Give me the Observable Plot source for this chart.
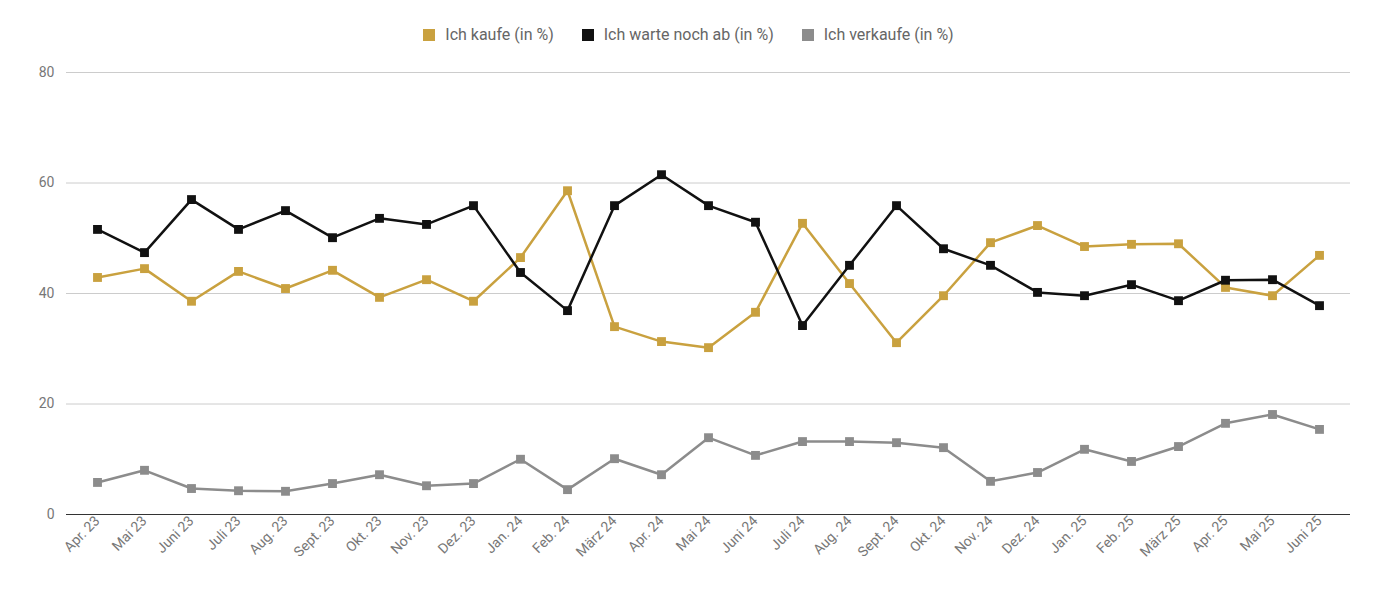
<!DOCTYPE html>
<html><head><meta charset="utf-8">
<script src="https://cdn.jsdelivr.net/npm/d3@7"></script>
<script src="https://cdn.jsdelivr.net/npm/@observablehq/plot@0.6"></script>
<style>
body{margin:0;background:#fff;font-family:Roboto,sans-serif}
#legend{height:50px;display:flex;justify-content:center;align-items:center;gap:28px;font-size:16px;color:#666;padding-top:18px;box-sizing:border-box;height:50px}
#legend span.sw{display:inline-block;width:12px;height:12px;margin-right:10px;vertical-align:-1px}
</style></head><body>
<div id="legend"></div>
<div id="chart"></div>
<script>
const months=["Apr. 23","Mai 23","Juni 23","Juli 23","Aug. 23","Sept. 23","Okt. 23","Nov. 23","Dez. 23","Jan. 24","Feb. 24","März 24","Apr. 24","Mai 24","Juni 24","Juli 24","Aug. 24","Sept. 24","Okt. 24","Nov. 24","Dez. 24","Jan. 25","Feb. 25","März 25","Apr. 25","Mai 25","Juni 25"];
const kaufe=[42.9,44.5,38.6,44,40.9,44.2,39.3,42.5,38.6,46.5,58.6,34,31.3,30.2,36.6,52.7,41.8,31.1,39.6,49.2,52.3,48.5,48.9,49,41.1,39.6,46.9];
const warte=[51.6,47.4,57,51.6,55,50.1,53.6,52.5,55.9,43.8,36.9,55.9,61.5,55.9,52.9,34.2,45.1,55.9,48.1,45.1,40.2,39.6,41.6,38.7,42.4,42.5,37.8];
const verkaufe=[5.8,8,4.7,4.3,4.2,5.6,7.2,5.2,5.6,10,4.5,10.1,7.2,13.9,10.7,13.2,13.2,13,12.1,6,7.6,11.8,9.6,12.3,16.5,18.1,15.4];
const seriesNames=["Ich kaufe (in %)","Ich warte noch ab (in %)","Ich verkaufe (in %)"];
const colors=["#c9a13f","#111111","#8c8c8c"];
const vals=[kaufe,warte,verkaufe];
const data=[];
vals.forEach((arr,s)=>arr.forEach((v,i)=>data.push({m:months[i],v,s:seriesNames[s]})));
document.getElementById("legend").innerHTML=seriesNames.map((n,i)=>`<div><span class="sw" style="background:${colors[i]}"></span>${n}</div>`).join("");
const chart=Plot.plot({
  width:1377,height:544,marginLeft:66,marginRight:27,marginTop:22,marginBottom:80,
  style:{fontFamily:"Roboto,sans-serif",fontSize:"14px",color:"#777"},
  x:{type:"point",domain:months,padding:0.5,label:null,tickRotate:-45,tickSize:0,tickPadding:4},
  y:{domain:[0,80],ticks:[0,20,40,60,80],label:null,tickSize:0,tickPadding:12},
  color:{domain:seriesNames,range:colors},
  marks:[
    Plot.gridY([20,40,60,80],{stroke:"#ccc",strokeOpacity:1}),
    Plot.ruleY([0],{stroke:"#333"}),
    Plot.line(data,{x:"m",y:"v",z:"s",stroke:"s",strokeWidth:2.5}),
    Plot.dot(data,{x:"m",y:"v",fill:"s",symbol:"square",r:5})
  ]
});
document.getElementById("chart").appendChild(chart);
</script></body></html>
